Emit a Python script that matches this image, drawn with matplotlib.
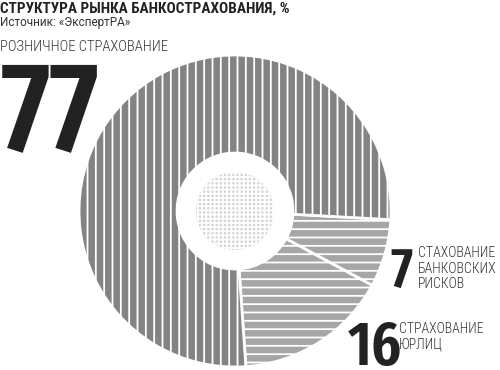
import numpy as np
import matplotlib
matplotlib.use('Agg')
import matplotlib.pyplot as plt
from matplotlib import font_manager
from matplotlib.patches import Circle

# data
labels = ['СТРАХОВАНИЕ\nЮРЛИЦ', 'СТАХОВАНИЕ\nБАНКОВСКИХ\nРИСКОВ', 'РОЗНИЧНОЕ СТРАХОВАНИЕ']
shares = [16, 7, 77]
title = 'СТРУКТУРА РЫНКА БАНКОСТРАХОВАНИЯ, %'
source = 'Источник: «ЭкспертРА»'


def pick(cands):
    names = set(f.name for f in font_manager.fontManager.ttflist)
    for n in cands:
        if n in names:
            return n
    return 'DejaVu Sans'


num_font = pick(['Fira Sans Extra Condensed', 'Roboto Condensed', 'DejaVu Sans'])
lab_font = pick(['Roboto Condensed', 'DejaVu Sans'])

plt.rcParams['hatch.linewidth'] = 1.3

W, H = 500, 370
fig = plt.figure(figsize=(5, 3.7), dpi=100)
ax = fig.add_axes([0, 0, 1, 1])

cx, cy = 235, H - 211
R, r_hole, r_core = 156, 58, 39

colors = ['#a6a6a6', '#a6a6a6', '#838383']
hatches = ['--', '--', '||']
wedges, _ = ax.pie(shares, startangle=-86, counterclock=True, center=(cx, cy),
                   radius=R, colors=colors,
                   wedgeprops=dict(width=R - r_hole, edgecolor='white', linewidth=2))
for w, h in zip(wedges, hatches):
    w.set_hatch(h)

core = Circle((cx, cy), r_core, facecolor='#d4d4d4', edgecolor='white',
              hatch='++++', linewidth=0)
ax.add_patch(core)

ax.set_xlim(0, W)
ax.set_ylim(0, H)
ax.set_aspect('equal')
ax.axis('off')

dark = '#222222'
txt = '#333333'

ax.text(0, H - 2, title, ha='left', va='top', fontsize=11, fontweight='bold',
        family=lab_font, color=dark)
ax.text(0, H - 16, source, ha='left', va='top', fontsize=8.5,
        family='Roboto', color=txt)

ax.text(0, H - 40, labels[2], ha='left', va='top', fontsize=10.5,
        fontweight='light', family=lab_font, color=txt)
ax.text(1, H - 150, str(shares[2]), ha='left', va='baseline', fontsize=92,
        fontweight='semibold', family=num_font, color=dark)

ax.text(390, H - 287, str(shares[1]), ha='left', va='baseline', fontsize=41,
        fontweight='semibold', family=num_font, color=dark)
ax.text(418, H - 246, labels[1], ha='left', va='top', fontsize=10,
        fontweight='light', family=lab_font, color=txt, linespacing=1.15)

ax.text(348, H - 365, str(shares[0]), ha='left', va='baseline', fontsize=45,
        fontweight='semibold', family=num_font, color=dark)
ax.text(399, H - 322, labels[0], ha='left', va='top', fontsize=10,
        fontweight='light', family=lab_font, color=txt, linespacing=1.15)

fig.savefig('out.png', dpi=100)
